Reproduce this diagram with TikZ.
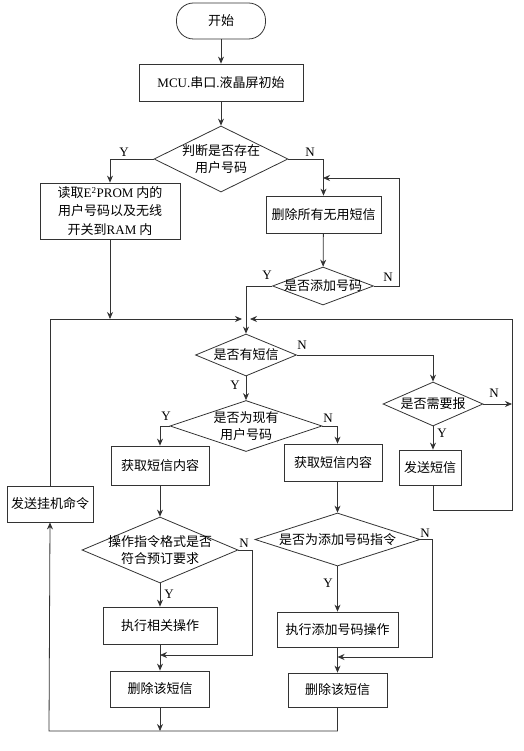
\documentclass[tikz,border=0pt]{standalone}
\usepackage{fontspec}
\setmainfont{Noto Sans CJK SC}
\newfontfamily\latin{Liberation Serif}
\usetikzlibrary{shapes.geometric,arrows.meta}
\begin{document}
\begin{tikzpicture}[x=1pt,y=-1pt,line width=0.8pt,draw=black!80,
  font=\fontsize{13}{17}\selectfont,
  box/.style={draw,rectangle,inner sep=0pt,align=center},
  dec/.style={draw,diamond,inner sep=0pt},
  every label/.style={align=center,inner sep=0pt},
  arr/.style={-{Stealth[length=7pt,width=6pt]}},
  yn/.style={font=\latin\fontsize{13}{15}\selectfont}]
\useasboundingbox (0,0) rectangle (523,751);
% top part
\node [box,rounded corners=17pt,minimum width=89,minimum height=36] (start) at (221,21) {开始};
\node [box,minimum width=164,minimum height=37] (init) at (221,82.5) {{\latin MCU.}串口{\latin .}液晶屏初始};
\node [dec,minimum width=134,minimum height=66,label=center:{判断是否存在\\用户号码}] (hasuser) at (221,159) {};
\node [box,minimum width=140,minimum height=56,font=\fontsize{13}{18.5}\selectfont] (readee) at (110,211)
  {读取{\latin E\textsuperscript{2}PROM} 内的\\用户号码以及无线\\开关到{\latin RAM} 内};
\node [box,minimum width=115,minimum height=37] (delall) at (323.5,214.5) {删除所有无用短信};
\node [dec,minimum width=101,minimum height=38,label=center:{是否添加号码}] (addnum) at (323,286) {};
\coordinate (j) at (246,319);
\coordinate (c1) at (323,178);
% middle part
\node [dec,minimum width=101,minimum height=42,label=center:{是否有短信}] (hasmsg) at (246,355) {};
\node [dec,minimum width=100,minimum height=44,label=center:{是否需要报}] (needrep) at (433,404) {};
\node [box,minimum width=62,minimum height=35] (sendmsg) at (430,467.5) {发送短信};
\node [dec,minimum width=152,minimum height=51,label=center:{是否为现有\\用户号码}] (isuser) at (246,426) {};
\node [box,minimum width=98,minimum height=39] (getl) at (160,465.5) {获取短信内容};
\node [box,minimum width=98,minimum height=37] (getr) at (333,462.5) {获取短信内容};
\node [box,minimum width=86,minimum height=36] (hangup) at (50,504) {发送挂机命令};
% lower part
\node [dec,minimum width=156,minimum height=66,label=center:{操作指令格式是否\\符合预订要求}] (fmtok) at (160,550) {};
\node [box,minimum width=114,minimum height=37] (doop) at (160,625.5) {执行相关操作};
\node [box,minimum width=99,minimum height=36] (dell) at (160,689) {删除该短信};
\node [dec,minimum width=165,minimum height=53,label=center:{是否为添加号码指令}] (isadd) at (337.5,539.5) {};
\node [box,minimum width=121,minimum height=35] (doadd) at (337.5,629.5) {执行添加号码操作};
\node [box,minimum width=99,minimum height=34] (delr) at (337.5,690) {删除该短信};
\coordinate (bl) at (49,731);
\coordinate (tr) at (512,319);
% connectors
\draw [arr] (start) -- (init);
\draw [arr] (init) -- (hasuser);
\draw [arr] (hasuser.west) -| (readee.north);
\draw [arr] (hasuser.east) -| (delall.north);
\draw [arr] (delall) -- (addnum);
\draw [arr] (addnum.east) -- ++(25,0) |- (c1);
\draw [arr] (addnum.west) -| (hasmsg.north);
\draw [arr] (readee.south) -- (readee.south |- j);
\draw [arr,shorten >=4pt] (hangup.north) |- (j);
\draw [arr,shorten >=4pt] (needrep.south |- sendmsg.south) |- (tr |- 0,510) -- (tr) -- (j);
\draw [arr] (hasmsg.east) -| (needrep.north);
\draw [arr] (needrep.east) -- (needrep.east -| tr);
\draw [arr] (needrep.south) -- (needrep.south |- sendmsg.north);
\draw [arr] (hasmsg.south) -- (isuser.north);
\draw [arr] (isuser.west) -| (getl.north);
\draw [arr] (isuser.east) -| (getr.north -| isadd.north);
\draw [arr] (getl) -- (fmtok);
\draw [arr] (fmtok) -- (doop);
\draw [arr] (doop) -- (dell);
\draw [arr] (fmtok.east) -- ++(14,0) |- (160,655);
\draw [arr] (dell.south) -- (dell.south |- bl);
\draw [arr] (getr.south -| isadd.north) -- (isadd.north);
\draw [arr] (isadd) -- (doadd);
\draw [arr] (doadd) -- (delr);
\draw [arr] (isadd.east) -- ++(12,0) |- (337.5,657);
\draw [arr] (delr.south) |- (bl) -- (hangup.south);
% labels
\node [yn] (y1) at (124,152) {Y};
\node [yn] (n1) at (310,152) {N};
\node [yn] (y2) at (267,275) {Y};
\node [yn] (n2) at (388,277) {N};
\node [yn] (n3) at (302,345) {N};
\node [yn] (y3) at (235,385) {Y};
\node [yn] (n4) at (494,393) {N};
\node [yn] (y4) at (442,433) {Y};
\node [yn] (y5) at (166,416) {Y};
\node [yn] (n5) at (328,418) {N};
\node [yn] (n6) at (244,543) {N};
\node [yn] (y6) at (169,594) {Y};
\node [yn] (n7) at (425,533) {N};
\node [yn] (y7) at (328,583) {Y};
\end{tikzpicture}
\end{document}
